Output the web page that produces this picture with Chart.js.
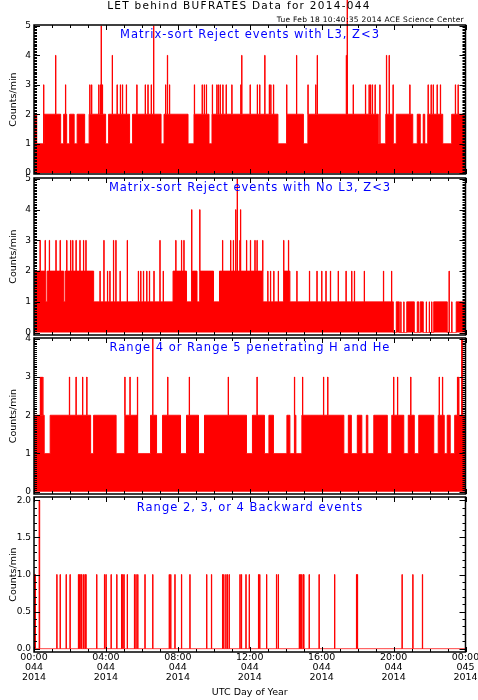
<!DOCTYPE html>
<html lang="en">
<head>
  <meta charset="UTF-8" />
  <title>LET behind BUFRATES Data for 2014-044</title>
  <script src="https://cdn.jsdelivr.net/npm/chart.js"></script>
  <style>
    body {
      margin: 0;
      width: 478px;
      height: 700px;
      position: relative;
      overflow: hidden;
      background: #ffffff;
      font-family: 'DejaVu Sans', sans-serif;
    }
    canvas { position: absolute; left: 0; }
    .txt { position: absolute; white-space: nowrap; line-height: 1; z-index: 5; }
    #title { left: 0; width: 478px; text-align: center; top: 0; font-size: 10.5px; letter-spacing: 1.3px; color: #000; }
    #stamp { right: 14px; top: 16px; font-size: 7.5px; letter-spacing: 0.3px; color: #000; }
    .panel-title { left: 34px; width: 432px; text-align: center; color: #0000ff; font-size: 11.5px; letter-spacing: 1px; }
  </style>
</head>
<body>
  <div class="txt" id="title">LET behind BUFRATES Data for 2014-044</div>
  <div class="txt" id="stamp">Tue Feb 18 10:40:35 2014 ACE Science Center</div>

  <canvas id="p1" width="478" height="184" style="top:0px"></canvas>
  <canvas id="p2" width="478" height="177" style="top:168px"></canvas>
  <canvas id="p3" width="478" height="176" style="top:328px"></canvas>
  <canvas id="p4" width="478" height="213" style="top:487px"></canvas>

  <div class="txt panel-title" style="top:28.6px">Matrix-sort Reject events with L3, Z&lt;3</div>
  <div class="txt panel-title" style="top:182.3px">Matrix-sort Reject events with No L3, Z&lt;3</div>
  <div class="txt panel-title" style="top:342.3px">Range 4 or Range 5 penetrating H and He</div>
  <div class="txt panel-title" style="top:502.3px">Range 2, 3, or 4 Backward events</div>

  <script>
    const MINUTES = 1440;   // one UTC day, one value per minute
    const BIN_MIN = 5;      // base levels are read in 5-minute bins
    const RED = '#ff0000';

    // x axis: ticks every 4 hours
    const xTickMinutes = [0, 240, 480, 720, 960, 1200, 1440];
    const xTickTimes = ['00:00', '04:00', '08:00', '12:00', '16:00', '20:00', '00:00'];
    const xTickDays = ['044', '044', '044', '044', '044', '044', '045'];
    const xTickYears = ['2014', '2014', '2014', '2014', '2014', '2014', '2014'];

    // ---- panel 1: Matrix-sort Reject events with L3, Z<3
    // base level runs as [counts, number of 5-minute bins]
    const p1Runs = [
      [2, 2], [1, 5], [2, 11], [1, 2], [2, 2], [1, 2], [2, 3], [1, 2], [2, 5], [1, 3], [2, 11],
      [1, 2], [2, 14], [1, 2], [2, 19], [1, 2], [2, 9],
      [2, 7], [1, 4], [2, 10], [1, 2], [2, 25],
      [2, 19], [1, 6], [2, 11], [1, 3], [2, 9],
      [2, 38], [1, 5], [2, 5],
      [1, 2], [2, 11], [1, 3], [2, 2], [1, 2], [2, 1], [1, 2], [2, 10], [1, 6], [2, 9]
    ];
    // single-minute peaks (minute of day) per count level
    const p1Peak3 = [33, 106, 187, 193, 217, 223, 229, 278, 289, 296, 309, 344, 372, 381, 392, 440, 453,
      536, 562, 569, 576, 596, 611, 616, 622, 631, 642, 661, 691, 722, 746, 754, 786, 791, 800, 844,
      915, 941, 1044, 1066, 1107, 1119, 1124, 1130, 1139, 1155, 1199, 1255, 1316, 1326, 1333, 1346,
      1357, 1407, 1416];
    const p1Peak4 = [73, 262, 446, 694, 771, 877, 946, 1043, 1177, 1186];
    const p1Peak5 = [225, 400];
    const p1Peak6 = [1046];
    const p1YTicks = [0, 1, 2, 3, 4, 5];

    // ---- panel 2: Matrix-sort Reject events with No L3, Z<3
    const p2Runs = [
      [2, 8], [1, 1], [2, 11], [1, 1], [2, 19], [1, 8],
      [1, 45], [2, 3],
      [2, 6], [1, 4], [2, 3], [1, 2], [2, 9], [1, 4], [2, 20],
      [2, 9], [1, 14], [2, 4], [1, 21],
      [1, 48],
      [0, 2], [1, 2], [0, 5], [1, 5], [0, 2], [1, 1], [0, 1], [1, 2], [0, 7], [1, 9], [0, 6], [1, 6]
    ];
    const p2Peak1 = [1225, 1235, 1310, 1320, 1328, 1395];
    const p2Peak2 = [221, 246, 254, 288, 349, 357, 366, 377, 386, 401, 432, 781, 790, 801, 816, 878,
      920, 945, 961, 975, 990, 1016, 1042, 1061, 1070, 1103, 1167, 1194, 1386];
    const p2Peak3 = [21, 38, 52, 74, 88, 110, 123, 130, 141, 154, 166, 174, 234, 266, 274, 312, 421,
      474, 493, 501, 630, 657, 666, 688, 710, 723, 738, 745, 764, 834, 850];
    const p2Peak4 = [527, 554, 674, 690];
    const p2Peak5 = [679];
    const p2YTicks = [0, 1, 2, 3, 4, 5];

    // ---- panel 3: Range 4 or Range 5 penetrating H and He
    const p3Runs = [
      [2, 7], [1, 4], [2, 27], [1, 2], [2, 8],
      [2, 7], [1, 6], [2, 8], [1, 9], [2, 4], [1, 4], [2, 10],
      [2, 2], [1, 4], [2, 8], [1, 4], [2, 28], [1, 2],
      [1, 2], [2, 8], [1, 3], [2, 3], [1, 9], [2, 2], [1, 3], [2, 1], [1, 4], [2, 13],
      [2, 15], [1, 3], [2, 2], [1, 4], [2, 3], [1, 3], [2, 1], [1, 4], [2, 9], [1, 3], [2, 1],
      [2, 7], [1, 3], [2, 4], [1, 3], [2, 10], [1, 3], [2, 4], [1, 2], [2, 2], [1, 3], [2, 7]
    ];
    const p3Peak3 = [22, 26, 30, 119, 141, 163, 177, 304, 321, 346, 447, 519, 649, 745, 870, 897,
      967, 981, 1201, 1214, 1258, 1353, 1364, 1414, 1418];
    const p3Peak4 = [397, 1428, 1429, 1430, 1431];
    const p3YTicks = [0, 1, 2, 3, 4];

    // ---- panel 4: Range 2, 3, or 4 Backward events
    const p4Runs = [[0, 288]];
    const p4Peak1 = [2, 5, 77, 88, 108, 121, 149, 152, 157, 160, 166, 171, 174, 210, 236, 241, 258,
      277, 293, 297, 301, 312, 336, 341, 347, 371, 397, 452, 457, 471, 493, 521, 577, 593, 630, 634,
      641, 646, 652, 688, 693, 708, 719, 750, 754, 777, 810, 816, 886, 890, 894, 899, 901, 919, 952,
      1004, 1077, 1080, 1229, 1265, 1297];
    const p4Peak2 = [18, 19];
    const p4YTicks = [0, 0.5, 1, 1.5, 2];

    // expand runs + peaks into one point per minute
    function buildPoints(runs, peaks) {
      const counts = [];
      runs.forEach(([level, bins]) => {
        for (let i = 0; i < bins * BIN_MIN; i++) counts.push(level);
      });
      peaks.forEach(([level, minutes]) => {
        minutes.forEach(m => { counts[m] = Math.max(counts[m], level); });
      });
      const pts = counts.map((c, m) => ({ x: m, y: c }));
      pts.push({ x: MINUTES, y: counts[MINUTES - 1] });
      return pts;
    }

    // black box with inward ticks on all four sides (IDL style)
    const framePlugin = {
      id: 'frame',
      afterDatasetsDraw(chart, args, o) {
        const { ctx, chartArea: a } = chart;
        const xs = chart.scales.x, ys = chart.scales.y;
        const y0 = o.yMajor[0], y1 = o.yMajor[o.yMajor.length - 1];
        ctx.save();
        ctx.strokeStyle = '#000';
        ctx.lineWidth = 1;
        ctx.beginPath();
        const n = Math.round((y1 - y0) / o.yMinor);
        for (let i = 0; i <= n; i++) {
          const py = Math.round(ys.getPixelForValue(y0 + i * o.yMinor)) + 0.5;
          ctx.moveTo(a.left, py); ctx.lineTo(a.left + 3, py);
          ctx.moveTo(a.right, py); ctx.lineTo(a.right - 3, py);
        }
        o.yMajor.forEach(v => {
          const py = Math.round(ys.getPixelForValue(v)) + 0.5;
          ctx.moveTo(a.left, py); ctx.lineTo(a.left + 6, py);
          ctx.moveTo(a.right, py); ctx.lineTo(a.right - 6, py);
        });
        for (let m = 0; m <= MINUTES; m += 60) {
          const px = Math.round(xs.getPixelForValue(m)) + 0.5;
          const len = xTickMinutes.includes(m) ? 5 : 3;
          ctx.moveTo(px, a.top); ctx.lineTo(px, a.top + len);
          ctx.moveTo(px, a.bottom); ctx.lineTo(px, a.bottom - len);
        }
        ctx.stroke();
        ctx.lineWidth = 1.5;
        ctx.strokeRect(a.left, a.top, a.right - a.left, a.bottom - a.top);
        ctx.restore();
      }
    };

    function makePanel(id, points, cfg) {
      const ds = {
        data: points,
        stepped: 'after',
        borderColor: RED,
        backgroundColor: RED,
        borderWidth: 1,
        fill: 'origin',
        pointRadius: 0
      };
      if (cfg.noClip) ds.clip = false;

      return new Chart(document.getElementById(id), {
        type: 'line',
        data: { datasets: [ds] },
        options: {
          responsive: false,
          animation: false,
          parsing: false,
          normalized: true,
          events: [],
          layout: { padding: { left: 0, right: 12.5, top: cfg.padTop, bottom: cfg.padBottom } },
          plugins: {
            legend: { display: false },
            tooltip: { enabled: false },
            frame: { yMajor: cfg.yTicks, yMinor: cfg.yMinor }
          },
          scales: {
            x: {
              type: 'linear',
              min: 0,
              max: MINUTES,
              display: cfg.showX,
              grid: { display: false, drawTicks: false },
              border: { display: false },
              afterBuildTicks: s => { s.ticks = xTickMinutes.map(v => ({ value: v })); },
              ticks: {
                autoSkip: false,
                maxRotation: 0,
                padding: 1,
                color: '#000',
                font: { family: 'DejaVu Sans', size: 9.5, lineHeight: 1.05 },
                callback: (v, i) => [xTickTimes[i], xTickDays[i], xTickYears[i]]
              },
              title: {
                display: true,
                text: 'UTC Day of Year',
                color: '#000',
                font: { family: 'DejaVu Sans', size: 9.5 },
                padding: { top: 0, bottom: 1.3 }
              },
              afterFit: s => {
                if (cfg.showX) s.height = 48;
                s.paddingLeft = 0;
                s.paddingRight = 0;
              }
            },
            y: {
              type: 'linear',
              min: cfg.yMin,
              max: cfg.yMax,
              grid: { display: false, drawTicks: false },
              border: { display: false },
              afterBuildTicks: s => { s.ticks = cfg.yTicks.map(v => ({ value: v })); },
              ticks: {
                padding: 3,
                color: '#000',
                font: { family: 'DejaVu Sans', size: 9 },
                callback: v => v.toFixed(cfg.decimals)
              },
              title: {
                display: true,
                text: 'Counts/min',
                color: '#000',
                font: { family: 'DejaVu Sans', size: 9.5 },
                padding: { top: 7.6, bottom: 0 }
              },
              afterFit: s => { s.width = 34; s.paddingTop = 0; s.paddingBottom = 0; }
            }
          }
        },
        plugins: [framePlugin]
      });
    }

    makePanel('p1', buildPoints(p1Runs, [[3, p1Peak3], [4, p1Peak4], [5, p1Peak5], [6, p1Peak6]]), {
      yTicks: p1YTicks, yMin: -0.03, yMax: 5.03, yMinor: 0.05, decimals: 0,
      padTop: 25, padBottom: 10, showX: false, noClip: true
    });
    makePanel('p2', buildPoints(p2Runs, [[1, p2Peak1], [2, p2Peak2], [3, p2Peak3], [4, p2Peak4], [5, p2Peak5]]), {
      yTicks: p2YTicks, yMin: -0.08, yMax: 5.03, yMinor: 0.05, decimals: 0,
      padTop: 10, padBottom: 10, showX: false
    });
    makePanel('p3', buildPoints(p3Runs, [[3, p3Peak3], [4, p3Peak4]]), {
      yTicks: p3YTicks, yMin: -0.06, yMax: 4.02, yMinor: 0.05, decimals: 0,
      padTop: 10, padBottom: 10, showX: false
    });
    makePanel('p4', buildPoints(p4Runs, [[1, p4Peak1], [2, p4Peak2]]), {
      yTicks: p4YTicks, yMin: -0.045, yMax: 2.045, yMinor: 0.1, decimals: 1,
      padTop: 10, padBottom: 0, showX: true
    });
  </script>
</body>
</html>
